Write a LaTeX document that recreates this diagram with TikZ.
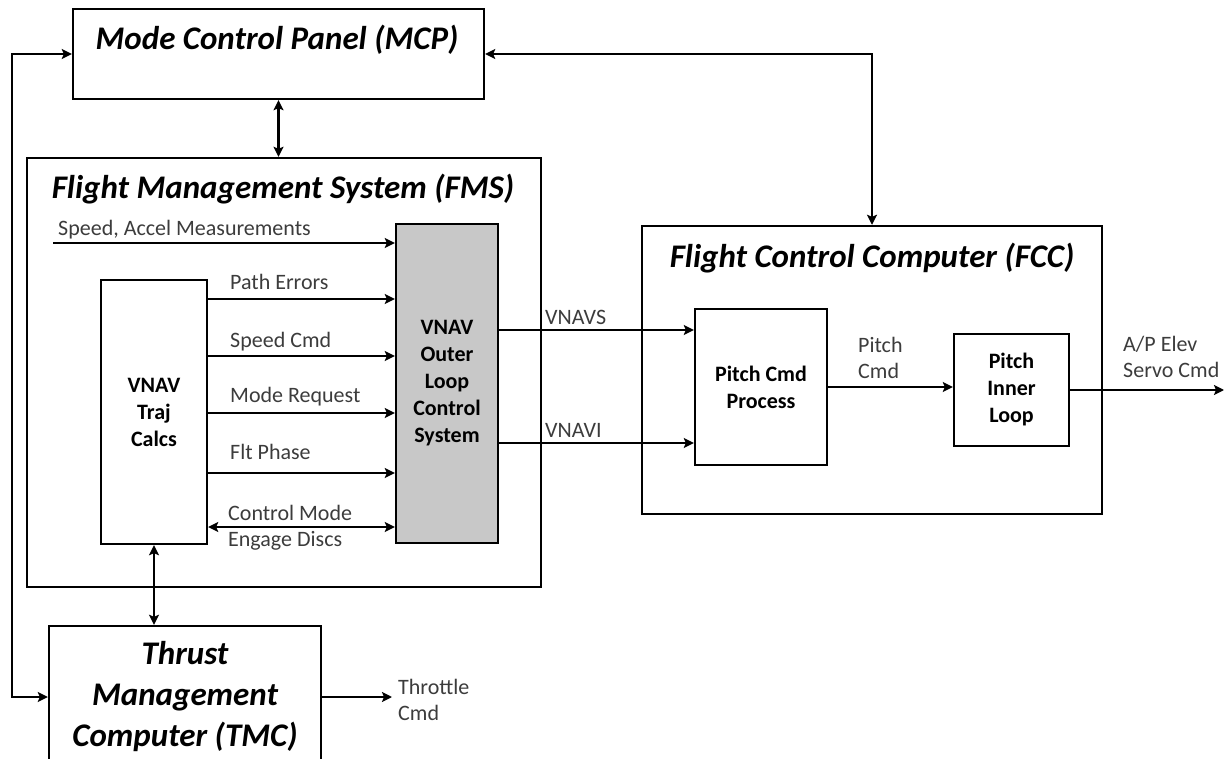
\documentclass[tikz,border=0pt]{standalone}
\usepackage{fontspec}
\setmainfont{Carlito}
\usetikzlibrary{positioning,arrows.meta}

\definecolor{loopgray}{RGB}{200,200,200}
\definecolor{sigtext}{RGB}{60,60,60}

\tikzset{
	tip/.tip={Stealth[length=10pt,width=10pt,inset=2pt]},
	block/.style={draw, line width=2.4pt, inner sep=0pt, align=center,
		font=\fontsize{22}{27}\selectfont\bfseries},
	title/.style={inner sep=0pt, align=center,
		font=\fontsize{33}{41}\selectfont\bfseries\itshape},
	sig/.style={inner sep=0pt, align=left, text=sigtext,
		font=\fontsize{22}{26}\selectfont},
	link/.style={line width=2.4pt, -tip},
	link2/.style={line width=2.4pt, tip-tip},
}

\begin{document}
\begin{tikzpicture}[x=1pt,y=-1pt]
\useasboundingbox (0,0) rectangle (1226,759);

% big boxes
\node[block, minimum width=411, minimum height=90] (mcp) at (278.5,54) {};
\node[block, minimum width=514, minimum height=429] (fms) at (284,372.5) {};
\node[block, minimum width=460, minimum height=288] (fcc) at (872,370) {};
\node[block, title, minimum width=272, minimum height=142] (tmc) at (185,697)
	{Thrust\\Management\\Computer (TMC)};

\node[title, anchor=base] (mcptitle) at (277,50) {Mode Control Panel (MCP)};
\node[title, anchor=base] (fmstitle) at (283,199) {Flight Management System (FMS)};
\node[title, anchor=base] (fcctitle) at (872,268) {Flight Control Computer (FCC)};

% inner boxes
\node[block, minimum width=106, minimum height=264] (traj) at (154,412) {VNAV\\Traj\\Calcs};
\node[block, fill=loopgray, minimum width=102, minimum height=319] (outer) at (447,383.5)
	{VNAV\\Outer\\Loop\\Control\\System};
\node[block, minimum width=132, minimum height=156] (pcp) at (761,387) {Pitch Cmd\\Process};
\node[block, minimum width=115, minimum height=112] (inner) at (1011.5,390) {Pitch\\Inner\\Loop};

% FMS signals
\coordinate (spdin) at (53,243);
\draw[link] (spdin) -- (spdin -| outer.west);
\node[sig, anchor=base west] (spdlbl) at (58,236) {Speed, Accel Measurements};

\foreach \y/\b/\nm/\txt in {299/290/patherr/Path Errors, 356/347/spdcmd/Speed Cmd,
	413/402/modereq/Mode Request, 473/459/fltph/Flt Phase} {
	\draw[link] (traj.east |- 0,\y) -- (outer.west |- 0,\y);
	\node[sig, anchor=base west] (\nm) at (230,\b) {\txt};
}
\draw[link2] (traj.east |- 0,527) -- (outer.west |- 0,527);
\node[sig, anchor=west] (engage) at (228,528) {Control Mode\\Engage Discs};

% to the FCC
\draw[link] (outer.east |- 0,330) -- (pcp.west |- 0,330);
\node[sig, anchor=base west] (vnavs) at (545,324) {VNAVS};
\draw[link] (outer.east |- 0,443) -- (pcp.west |- 0,443);
\node[sig, anchor=base west] (vnavi) at (545,437) {VNAVI};

\draw[link] (pcp.east) -- (pcp.east -| inner.west);
\node[sig, anchor=west] (pitchcmd) at (858,358) {Pitch\\Cmd};

\coordinate (elev) at (1224,390);
\draw[link] (inner.east) -- (elev);
\node[sig, anchor=west] (elevlbl) at (1123,357) {A/P Elev\\Servo Cmd};

% links between units
\draw[link2] (mcp.south) -- (mcp.south |- fms.north);
\draw[link2] (mcp.east) -| (fcc.north);
\coordinate (fbk) at (12,54);
\draw[link2] (mcp.west) -- (fbk) |- (tmc.west);
\draw[link2] (traj.south) -- (traj.south |- tmc.north);

\coordinate (thr) at (392,697);
\draw[link] (tmc.east) -- (thr);
\node[sig, anchor=west] (thrlbl) at (398,700) {Throttle\\Cmd};

\end{tikzpicture}
\end{document}
